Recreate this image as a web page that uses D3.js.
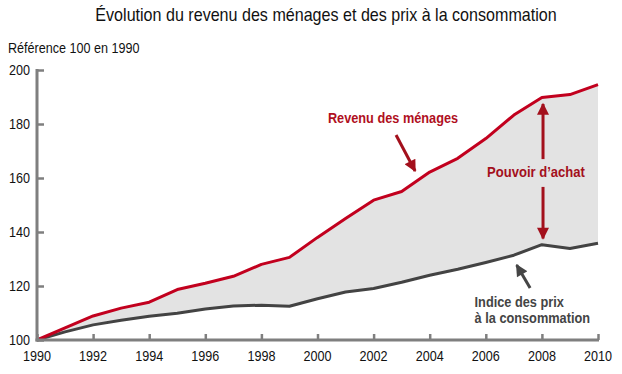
<!DOCTYPE html>
<html>
<head>
<meta charset="utf-8">
<script src="https://cdn.jsdelivr.net/npm/d3@7"></script>
<style>
  body { margin: 0; background: #fff; }
  svg text { font-family: "Liberation Sans Narrow", "Arial Narrow", "Liberation Sans", sans-serif; }
</style>
</head>
<body>
<div id="chart"></div>
<script>
// Data (index 100 in 1990)
var years = [1990, 1991, 1992, 1993, 1994, 1995, 1996, 1997, 1998, 1999, 2000,
             2001, 2002, 2003, 2004, 2005, 2006, 2007, 2008, 2009, 2010];
var revenu = [100, 104.5, 108.9, 111.8, 114, 118.7, 121, 123.6, 128, 130.6, 138,
              145, 151.8, 155, 162.2, 167.3, 174.6, 183.3, 189.8, 190.9, 194.6];
var prix = [100, 103, 105.6, 107.3, 108.8, 109.9, 111.5, 112.6, 112.9, 112.5, 115.3,
            117.8, 119.1, 121.4, 124, 126.2, 128.7, 131.4, 135.3, 133.9, 135.8];
var yTicks = [100, 120, 140, 160, 180, 200];
var xTicks = [1990, 1992, 1994, 1996, 1998, 2000, 2002, 2004, 2006, 2008, 2010];

var svgWidth = 622;
var svgHeight = 374;

var svg = d3.select("#chart")
  .append("svg")
  .attr("width", svgWidth)
  .attr("height", svgHeight);

var x = d3.scaleLinear().domain([1990, 2010]).range([37, 598]);
var y = d3.scaleLinear().domain([100, 200]).range([340, 70]);

var rows = years.map(function(yr, i) {
  return { year: yr, revenu: revenu[i], prix: prix[i] };
});

// no narrow font installed, so squeeze the text horizontally
function label(px, py, str, size, sx, opts) {
  opts = opts || {};
  return svg.append("text")
    .attr("transform", `translate(${px},${py}) scale(${sx},1)`)
    .attr("text-anchor", opts.anchor || "start")
    .attr("font-size", size + "px")
    .attr("font-weight", opts.bold ? "bold" : "normal")
    .attr("fill", opts.color || "#111")
    .text(str);
}

// arrow markers
var defs = svg.append("defs");
function addMarker(id, color) {
  defs.append("marker")
    .attr("id", id)
    .attr("viewBox", "0 0 10 10")
    .attr("refX", 9)
    .attr("refY", 5)
    .attr("markerWidth", 4.5)
    .attr("markerHeight", 4)
    .attr("markerUnits", "strokeWidth")
    .attr("orient", "auto-start-reverse")
    .append("path")
    .attr("d", "M0,0 L10,5 L0,10 z")
    .attr("fill", color);
}
addMarker("arrRed", "#a3101c");
addMarker("arrGrey", "#454545");

// shaded area between the two series
svg.append("path")
  .datum(rows)
  .attr("fill", "#e3e3e3")
  .attr("d", d3.area()
    .x(d => x(d.year))
    .y0(d => y(d.prix))
    .y1(d => y(d.revenu)));

// lines
svg.append("path")
  .datum(rows)
  .attr("fill", "none")
  .attr("stroke", "#434343")
  .attr("stroke-width", 3)
  .attr("stroke-linejoin", "round")
  .attr("d", d3.line().x(d => x(d.year)).y(d => y(d.prix)));

svg.append("path")
  .datum(rows)
  .attr("fill", "none")
  .attr("stroke", "#c2001e")
  .attr("stroke-width", 3)
  .attr("stroke-linejoin", "round")
  .attr("d", d3.line().x(d => x(d.year)).y(d => y(d.revenu)));

// axes
var leftAxis = d3.axisRight(y).tickValues(yTicks).tickSize(7).tickFormat("");
var yAxisG = svg.append("g")
  .attr("transform", `translate(${x(1990)},0)`)
  .call(leftAxis);
yAxisG.select(".domain").remove();
yAxisG.selectAll(".tick line").attr("stroke", "#7f7f7f").attr("stroke-width", 2.5);
yAxisG.append("line")
  .attr("y1", y(200) - 1).attr("y2", y(100) + 1.5)
  .attr("stroke", "#7f7f7f").attr("stroke-width", 3);

var bottomAxis = d3.axisTop(x).tickValues(xTicks).tickSize(6).tickFormat("");
var xAxisG = svg.append("g")
  .attr("transform", `translate(0,${y(100)})`)
  .call(bottomAxis);
xAxisG.select(".domain").remove();
xAxisG.selectAll(".tick line").attr("stroke", "#7f7f7f").attr("stroke-width", 2.5);
xAxisG.append("line")
  .attr("x1", x(1990) - 1.5).attr("x2", x(2010) + 1)
  .attr("stroke", "#7f7f7f").attr("stroke-width", 3);

// tick labels
yTicks.forEach(function(t) {
  label(30, y(t) + 5, t, 14, 0.9, { anchor: "end" });
});
xTicks.forEach(function(t) {
  label(x(t), y(100) + 21, t, 14, 0.9, { anchor: "middle" });
});

// titles
label(326, 21, "Évolution du revenu des ménages et des prix à la consommation", 17.5, 0.92, { anchor: "middle" });
label(8, 53, "Référence 100 en 1990", 14, 0.9);

// annotations
label(x(2000.37), y(180.2), "Revenu des ménages", 15, 0.85, { bold: true, color: "#b0101e" });

svg.append("line")
  .attr("x1", x(2002.8)).attr("y1", y(175.9))
  .attr("x2", x(2003.48)).attr("y2", y(162.6))
  .attr("stroke", "#a3101c").attr("stroke-width", 3)
  .attr("marker-end", "url(#arrRed)");

label(x(2007.79), y(160.2), "Pouvoir d\u2019achat", 15, 0.87, { anchor: "middle", bold: true, color: "#a3101c" });

svg.append("line")
  .attr("x1", x(2008.04)).attr("y1", y(167))
  .attr("x2", x(2008.04)).attr("y2", y(187.4))
  .attr("stroke", "#a3101c").attr("stroke-width", 3)
  .attr("marker-end", "url(#arrRed)");

svg.append("line")
  .attr("x1", x(2008.04)).attr("y1", y(156.7))
  .attr("x2", x(2008.04)).attr("y2", y(137.6))
  .attr("stroke", "#a3101c").attr("stroke-width", 3)
  .attr("marker-end", "url(#arrRed)");

svg.append("line")
  .attr("x1", x(2007.58)).attr("y1", y(119.3))
  .attr("x2", x(2007.1)).attr("y2", y(127.8))
  .attr("stroke", "#454545").attr("stroke-width", 3)
  .attr("marker-end", "url(#arrGrey)");

label(x(2005.6), y(112.4), "Indice des prix", 14.5, 0.88, { bold: true, color: "#444" });
label(x(2005.6), y(112.4) + 16, "à la consommation", 14.5, 0.88, { bold: true, color: "#444" });
</script>
</body>
</html>
